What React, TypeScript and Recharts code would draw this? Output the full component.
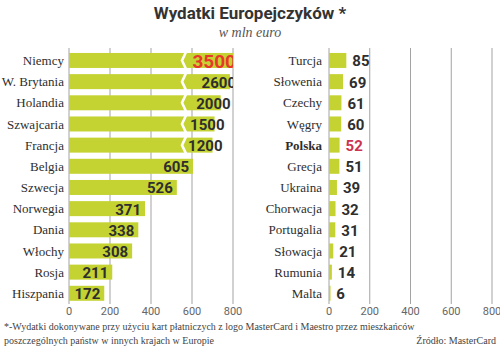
import React from 'react';
import { BarChart, Bar, XAxis, YAxis, CartesianGrid } from 'recharts';

const leftCountries = ['Niemcy', 'W. Brytania', 'Holandia', 'Szwajcaria', 'Francja', 'Belgia', 'Szwecja', 'Norwegia', 'Dania', 'Włochy', 'Rosja', 'Hiszpania'];
const leftValues = [3500, 2600, 2000, 1500, 1200, 605, 526, 371, 338, 308, 211, 172];
// bar lengths as drawn on the broken (0–800) axis
const leftShown = [830, 785, 740, 710, 700, 605, 526, 371, 338, 308, 211, 172];
const rightCountries = ['Turcja', 'Słowenia', 'Czechy', 'Węgry', 'Polska', 'Grecja', 'Ukraina', 'Chorwacja', 'Portugalia', 'Słowacja', 'Rumunia', 'Malta'];
const rightValues = [85, 69, 61, 60, 52, 51, 39, 32, 31, 21, 14, 6];
const axisTicks = [0, 200, 400, 600, 800];
const highlightLeft = 'Niemcy';
const highlightRight = 'Polska';

const leftData = leftCountries.map((name, i) => ({ name, value: leftValues[i], shown: leftShown[i] }));
const rightData = rightCountries.map((name, i) => ({ name, value: rightValues[i], shown: rightValues[i] }));

const BAR = '#c4d332';
const GRID = '#a3a3a3';
const TEXT = '#2e2e2e';
const BREAK = 113;
const LABEL_FONT = 'Roboto, "DejaVu Sans", sans-serif';
const SERIF = '"Liberation Serif", "DejaVu Serif", serif';

const LeftShape = (props: any) => {
  const { x, y, width, height, payload } = props;
  const broken = payload.value > payload.shown;
  const end = x + width;
  const hl = payload.name === highlightLeft;
  const tx = broken ? Math.min(end + 10, 236) : end - 4;
  return (
    <g>
      <rect x={x} y={y} width={width} height={height} fill={BAR} />
      {broken && (
        <polyline
          points={`${x + BREAK + 4},${y - 1} ${x + BREAK},${y + height / 2} ${x + BREAK + 4},${y + height + 1}`}
          fill="none"
          stroke="#fff"
          strokeWidth={2.6}
        />
      )}
      <text
        x={tx}
        y={y + height / 2 + 1}
        textAnchor="end"
        dominantBaseline="central"
        fontFamily={LABEL_FONT}
        fontWeight={700}
        fontSize={hl ? 19 : 15}
        fill={hl ? '#e8382b' : TEXT}
      >
        {payload.value}
      </text>
    </g>
  );
};

const RightShape = (props: any) => {
  const { x, y, width, height, payload } = props;
  const hl = payload.name === highlightRight;
  return (
    <g>
      <rect x={x} y={y} width={Math.max(width, 1.5)} height={height} fill={BAR} />
      <text
        x={x + width + 6}
        y={y + height / 2 + 1}
        textAnchor="start"
        dominantBaseline="central"
        fontFamily={LABEL_FONT}
        fontWeight={700}
        fontSize={15}
        fill={hl ? '#cc3350' : TEXT}
      >
        {payload.value}
      </text>
    </g>
  );
};

const makeCatTick = (boldName: string) => (props: any) => {
  const { x, y, payload } = props;
  const bold = payload.value === boldName;
  return (
    <text
      x={x}
      y={y}
      textAnchor="end"
      dominantBaseline="central"
      fontFamily={SERIF}
      fontSize={13}
      fontWeight={bold ? 700 : 400}
      fill={TEXT}
    >
      {payload.value}
    </text>
  );
};

const NumTick = (props: any) => {
  const { x, y, payload } = props;
  return (
    <text x={x} y={y + 11} textAnchor="middle" fontFamily={LABEL_FONT} fontSize={11} fill="#666">
      {payload.value}
    </text>
  );
};

function Panel({ data, yWidth, rightMargin, shape, boldName }: any) {
  return (
    <BarChart
      width={250}
      height={326}
      data={data}
      layout="vertical"
      margin={{ top: 48, right: rightMargin, bottom: 0, left: 0 }}
      barCategoryGap="14%"
    >
      <CartesianGrid vertical horizontal={false} stroke={GRID} />
      <XAxis
        type="number"
        domain={[0, 800]}
        ticks={axisTicks}
        allowDataOverflow
        axisLine={false}
        tickLine={false}
        tickSize={0}
        tickMargin={0}
        height={22}
        tick={<NumTick />}
        interval={0}
      />
      <XAxis
        xAxisId="top"
        orientation="top"
        type="number"
        domain={[0, 800]}
        height={0}
        tick={false}
        tickLine={false}
        axisLine={{ stroke: GRID }}
      />
      <YAxis
        type="category"
        dataKey="name"
        width={yWidth}
        axisLine={false}
        tickLine={false}
        tickSize={0}
        tickMargin={yWidth === 69 ? 5 : 7}
        padding={{ top: 2, bottom: 0 }}
        tick={makeCatTick(boldName)}
        interval={0}
      />
      <Bar dataKey="shown" isAnimationActive={false} shape={shape} />
    </BarChart>
  );
}

export default function App() {
  return (
    <div
      style={{
        position: 'absolute',
        left: 0,
        top: 0,
        width: 500,
        height: 353,
        background: '#fff',
        overflow: 'hidden',
      }}
    >
      <div
        style={{
          position: 'absolute',
          left: 0,
          top: 2,
          width: 500,
          textAlign: 'center',
          fontFamily: LABEL_FONT,
          fontWeight: 700,
          fontSize: 17,
          color: '#333',
          lineHeight: '22px',
        }}
      >
        Wydatki Europejczyków *
      </div>
      <div
        style={{
          position: 'absolute',
          left: 0,
          top: 25,
          width: 500,
          textAlign: 'center',
          fontFamily: SERIF,
          fontStyle: 'italic',
          fontSize: 14,
          color: '#555',
          lineHeight: '16px',
        }}
      >
        w mln euro
      </div>
      <div style={{ position: 'absolute', left: 0, top: 0 }}>
        <Panel data={leftData} yWidth={69} rightMargin={17} shape={<LeftShape />} boldName="" />
      </div>
      <div style={{ position: 'absolute', left: 250, top: 0 }}>
        <Panel data={rightData} yWidth={79} rightMargin={8} shape={<RightShape />} boldName={highlightRight} />
      </div>
      <div
        style={{
          position: 'absolute',
          left: 4,
          top: 320,
          width: 492,
          fontFamily: SERIF,
          fontSize: 10,
          color: '#444',
          lineHeight: '14px',
        }}
      >
        <div>*-Wydatki dokonywane przy użyciu kart płatniczych z logo MasterCard i Maestro przez mieszkańców</div>
        <div style={{ position: 'relative' }}>
          poszczególnych państw w innych krajach w Europie
          <span style={{ position: 'absolute', right: 0, top: 0 }}>Źródło: MasterCard</span>
        </div>
      </div>
    </div>
  );
}
